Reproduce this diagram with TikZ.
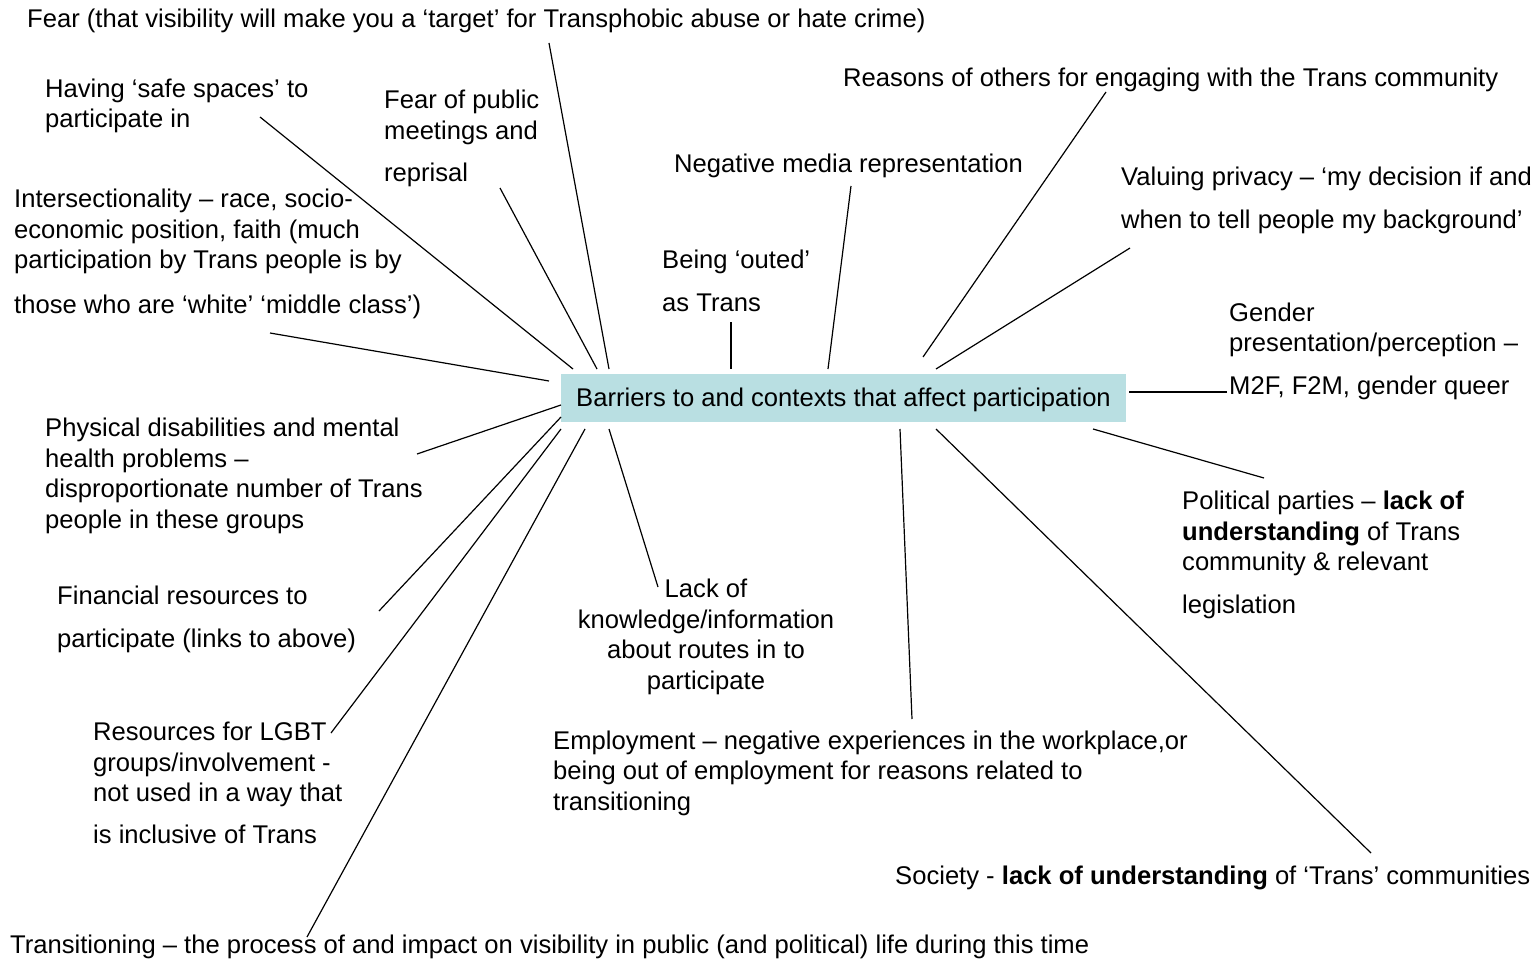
\documentclass[tikz,border=0pt]{standalone}
\usepackage{fontspec}
\setmainfont{Liberation Sans}
\definecolor{hubfill}{RGB}{185,223,226}

\begin{document}
\begin{tikzpicture}[x=1pt,y=-1pt,
    lbl/.style={anchor=base west,inner sep=0pt,align=left,font=\fontsize{25.6}{30.5}\selectfont},
    hub/.style={fill=hubfill,minimum width=565pt,minimum height=48pt,inner sep=0pt,text depth=0pt,font=\fontsize{25.6}{30}\selectfont},
    spoke/.style={line width=1.2pt}]
    \useasboundingbox (0,0) rectangle (1535,963);

    \node[hub] (hub) at (843.5,397.5) {Barriers to and contexts that affect participation};

    % labels round the hub (anchored at the baseline of their last line)
    \node[lbl] (fear) at (27,28) {Fear (that visibility will make you a ‘target’ for Transphobic abuse or hate crime)};
    \node[lbl] (safe) at (45,128) {Having ‘safe spaces’ to\\participate in};
    \node[lbl] (public) at (384,182) {Fear of public\\meetings and\\[12pt]reprisal};
    \node[lbl] (media) at (674,172) {Negative media representation};
    \node[lbl] (reasons) at (843,87) {Reasons of others for engaging with the Trans community};
    \node[lbl] (privacy) at (1121,228) {Valuing privacy – ‘my decision if and\\[12pt]when to tell people my background’};
    \node[lbl] (inter) at (14,313) {Intersectionality – race, socio-\\economic position, faith (much\\participation by Trans people is by\\[14pt]those who are ‘white’ ‘middle class’)};
    \node[lbl] (outed) at (662,311) {Being ‘outed’\\[12pt]as Trans};
    \node[lbl] (gender) at (1229,394) {Gender\\presentation/perception –\\[12pt]M2F, F2M, gender queer};
    \node[lbl] (physical) at (45,528) {Physical disabilities and mental\\health problems –\\disproportionate number of Trans\\people in these groups};
    \node[lbl] (finance) at (57,647) {Financial resources to\\[12pt]participate (links to above)};
    \node[lbl,anchor=base,align=center] (lack) at (706,689) {Lack of\\knowledge/information\\about routes in to\\participate};
    \node[lbl] (political) at (1182,613) {Political parties – \textbf{lack of}\\\textbf{understanding} of Trans\\community \& relevant\\[12pt]legislation};
    \node[lbl] (lgbt) at (93,843) {Resources for LGBT\\groups/involvement -\\not used in a way that\\[11pt]is inclusive of Trans};
    \node[lbl] (employ) at (553,810) {Employment – negative experiences in the workplace,or\\being out of employment for reasons related to\\transitioning};
    \node[lbl] (society) at (895,884) {Society - \textbf{lack of understanding} of ‘Trans’ communities};
    \node[lbl] (transit) at (10,953) {Transitioning – the process of and impact on visibility in public (and political) life during this time};

    % spoke ends
    \coordinate (fear-a) at (549,43);      \coordinate (fear-b) at (609,369);
    \coordinate (safe-a) at (260,117);     \coordinate (safe-b) at (573,369);
    \coordinate (public-a) at (500,188);   \coordinate (public-b) at (597,369);
    \coordinate (inter-a) at (270,333);    \coordinate (inter-b) at (549,381);
    \coordinate (outed-a) at (731,322);    \coordinate (outed-b) at (731,369);
    \coordinate (media-a) at (851,186);    \coordinate (media-b) at (828,369);
    \coordinate (reasons-a) at (1106,92);  \coordinate (reasons-b) at (923,357);
    \coordinate (privacy-a) at (1130,248); \coordinate (privacy-b) at (936,369);
    \coordinate (gender-a) at (1227,392);  \coordinate (gender-b) at (1129,392);
    \coordinate (political-a) at (1264,478); \coordinate (political-b) at (1093,429);
    \coordinate (society-a) at (1371,853); \coordinate (society-b) at (936,429);
    \coordinate (employ-a) at (912,719);   \coordinate (employ-b) at (900,429);
    \coordinate (lack-a) at (658,587);     \coordinate (lack-b) at (609,429);
    \coordinate (transit-a) at (307,937);  \coordinate (transit-b) at (585,429);
    \coordinate (lgbt-a) at (331,733);     \coordinate (lgbt-b) at (561,429);
    \coordinate (finance-a) at (379,611);  \coordinate (finance-b) at (561,417);
    \coordinate (physical-a) at (417,454); \coordinate (physical-b) at (561,405);

    \draw[spoke] (fear-a) -- (fear-b);
    \draw[spoke] (safe-a) -- (safe-b);
    \draw[spoke] (public-a) -- (public-b);
    \draw[spoke] (inter-a) -- (inter-b);
    \draw[spoke] (outed-a) -- (outed-b);
    \draw[spoke] (media-a) -- (media-b);
    \draw[spoke] (reasons-a) -- (reasons-b);
    \draw[spoke] (privacy-a) -- (privacy-b);
    \draw[spoke] (gender-a) -- (gender-b);
    \draw[spoke] (political-a) -- (political-b);
    \draw[spoke] (society-a) -- (society-b);
    \draw[spoke] (employ-a) -- (employ-b);
    \draw[spoke] (lack-a) -- (lack-b);
    \draw[spoke] (transit-a) -- (transit-b);
    \draw[spoke] (lgbt-a) -- (lgbt-b);
    \draw[spoke] (finance-a) -- (finance-b);
    \draw[spoke] (physical-a) -- (physical-b);
\end{tikzpicture}
\end{document}
